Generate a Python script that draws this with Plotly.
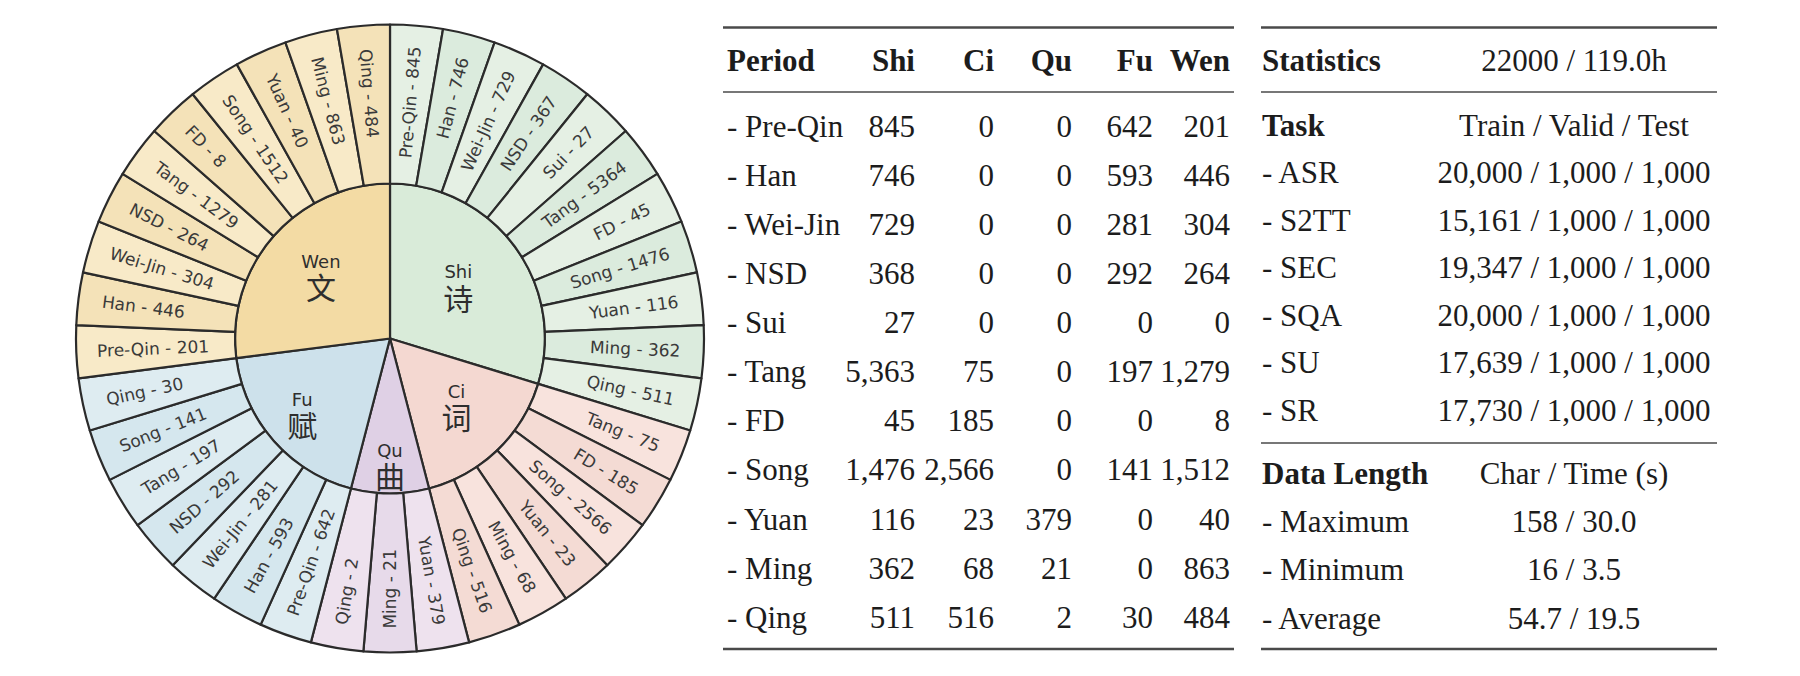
import plotly.graph_objects as go

# ---------------- data: wheel (as drawn on the wheel) ----------------
genres = ["Shi", "Ci", "Qu", "Fu", "Wen"]
genres_zh = ["诗", "词", "曲", "赋", "文"]
shi_periods = ["Pre-Qin", "Han", "Wei-Jin", "NSD", "Sui", "Tang", "FD", "Song", "Yuan", "Ming", "Qing"]
shi_counts = [845, 746, 729, 367, 27, 5364, 45, 1476, 116, 362, 511]
ci_periods = ["Tang", "FD", "Song", "Yuan", "Ming", "Qing"]
ci_counts = [75, 185, 2566, 23, 68, 516]
qu_periods = ["Yuan", "Ming", "Qing"]
qu_counts = [379, 21, 2]
fu_periods = ["Pre-Qin", "Han", "Wei-Jin", "NSD", "Tang", "Song", "Qing"]
fu_counts = [642, 593, 281, 292, 197, 141, 30]
wen_periods = ["Pre-Qin", "Han", "Wei-Jin", "NSD", "Tang", "FD", "Song", "Yuan", "Ming", "Qing"]
wen_counts = [201, 446, 304, 264, 1279, 8, 1512, 40, 863, 484]

# ---------------- data: table 1 ----------------
table1_header = ["Period", "Shi", "Ci", "Qu", "Fu", "Wen"]
periods = ["Pre-Qin", "Han", "Wei-Jin", "NSD", "Sui", "Tang", "FD", "Song", "Yuan", "Ming", "Qing"]
t_shi = [845, 746, 729, 368, 27, 5363, 45, 1476, 116, 362, 511]
t_ci = [0, 0, 0, 0, 0, 75, 185, 2566, 23, 68, 516]
t_qu = [0, 0, 0, 0, 0, 0, 0, 0, 379, 21, 2]
t_fu = [642, 593, 281, 292, 0, 197, 0, 141, 0, 0, 30]
t_wen = [201, 446, 304, 264, 0, 1279, 8, 1512, 40, 863, 484]

# ---------------- data: table 2 ----------------
stats_label = "Statistics"
stats_value = "22000 / 119.0h"
task_header = ["Task", "Train / Valid / Test"]
tasks = ["ASR", "S2TT", "SEC", "SQA", "SU", "SR"]
task_train = [20000, 15161, 19347, 20000, 17639, 17730]
task_valid = [1000, 1000, 1000, 1000, 1000, 1000]
task_test = [1000, 1000, 1000, 1000, 1000, 1000]
length_header = ["Data Length", "Char / Time (s)"]
length_rows = ["Maximum", "Minimum", "Average"]
length_char = ["158", "16", "54.7"]
length_time = ["30.0", "3.5", "19.5"]

# ---------------- styles / layout ----------------
PAGE_W, PAGE_H, BODY_MARGIN = 1800, 676, 8          # browser body margin offsets the figure
W, H = PAGE_W - 2 * BODY_MARGIN, PAGE_H - 2 * BODY_MARGIN
CX, CY, R_OUT, R_IN = 390, 338.5, 314, 155         # page-pixel geometry of the wheel
inner_label_r = [85, 96, 128, 117, 92]             # radial position of each genre label
inner_colors = ["#d9ebd9", "#f4d8d1", "#dfd0e5", "#cde1eb", "#f3dba4"]
outer_colors = [("#e5f0e4", "#dbebdd"), ("#f8e3dd", "#f4dbd4"), ("#eee2ee", "#e7daea"),
                ("#deecf1", "#d5e7ee"), ("#f8eac8", "#f4e2b8")]
EDGE = "#2b2b2b"
WHEEL_FONT = "DejaVu Sans, Noto Sans CJK SC"
SERIF = "Liberation Serif"
TXT = "#1c1c1c"
FS = 31

groups = [(shi_periods, shi_counts), (ci_periods, ci_counts), (qu_periods, qu_counts),
          (fu_periods, fu_counts), (wen_periods, wen_counts)]
n_seg = sum(len(p) for p, _ in groups)
deg_per_seg = 360.0 / n_seg


def dom_x(c, r):
    return [(c - r - BODY_MARGIN) / W, (c + r - BODY_MARGIN) / W]


def dom_y(c, r):
    return [1 - (c + r - BODY_MARGIN) / H, 1 - (c - r - BODY_MARGIN) / H]


fig = go.Figure()

# ---- inner disc: genres on a polar subplot (angle sized by number of periods) ----
g_width, g_mid, start = [], [], 0.0
for ps, _ in groups:
    w = len(ps) * deg_per_seg
    g_width.append(w)
    g_mid.append(start + w / 2)
    start += w
fig.add_trace(go.Barpolar(
    r=[R_IN] * len(genres), theta=g_mid, width=g_width, base=0,
    marker=dict(color=inner_colors, line=dict(color=EDGE, width=2.2)),
    hoverinfo="skip", showlegend=False, subplot="polar",
))
inner_text = [f"<span style='font-size:18px'>{g}</span><br><span style='font-size:30px'>{z}</span>"
              for g, z in zip(genres, genres_zh)]
fig.add_trace(go.Scatterpolar(
    r=inner_label_r, theta=g_mid, text=inner_text, mode="text", textposition="middle center",
    textfont=dict(family=WHEEL_FONT, size=24, color="#2e2e2e"),
    hoverinfo="skip", showlegend=False, subplot="polar",
))

# ---- outer ring: one equal slice per (genre, period) ----
o_labels, o_text, o_colors, o_values = [], [], [], []
for gi, (g, (ps, cs)) in enumerate(zip(genres, groups)):
    for k, (p, c) in enumerate(zip(ps, cs)):
        o_labels.append(f"{g}|{p}")
        o_text.append(f"{p} - {c}")
        o_colors.append(outer_colors[gi][k % 2])
        o_values.append(1)
fig.add_trace(go.Pie(
    labels=o_labels, values=o_values, text=o_text, textinfo="text",
    sort=False, direction="clockwise", rotation=0, hole=R_IN / R_OUT,
    marker=dict(colors=o_colors, line=dict(color=EDGE, width=2.2)),
    insidetextorientation="radial", textposition="inside",
    insidetextfont=dict(family=WHEEL_FONT, size=17, color="#3a3a3a"),
    domain=dict(x=dom_x(CX, R_OUT), y=dom_y(CY, R_OUT)),
    hoverinfo="skip", showlegend=False,
))


def add_col(xs, ys, texts, pos):
    fig.add_trace(go.Scatter(
        x=xs, y=ys, text=texts, mode="text", textposition=pos,
        textfont=dict(family=SERIF, size=FS, color=TXT),
        hoverinfo="skip", showlegend=False, cliponaxis=False,
    ))


# ---------- table 1 (page-pixel coordinates) ----------
T1_LEFT, T1_RIGHT_EDGES = 727, [915, 994, 1072, 1153, 1230]
T1_HEAD_Y, T1_ROW0, T1_DY = 63, 129, 49.1
row_y = [T1_ROW0 + i * T1_DY for i in range(len(periods))]
add_col([T1_LEFT], [T1_HEAD_Y], [f"<b>{table1_header[0]}</b>"], "middle right")
for xe, h in zip(T1_RIGHT_EDGES, table1_header[1:]):
    add_col([xe], [T1_HEAD_Y], [f"<b>{h}</b>"], "middle left")
add_col([T1_LEFT] * len(periods), row_y, [f"- {p}" for p in periods], "middle right")
for xe, col in zip(T1_RIGHT_EDGES, [t_shi, t_ci, t_qu, t_fu, t_wen]):
    add_col([xe] * len(col), row_y, [f"{v:,}" for v in col], "middle left")

# ---------- table 2 ----------
T2_LEFT, T2_CENTER = 1262, 1574
T2_STATS_Y = 63
T2_TASK_Y0, T2_TASK_DY = 128, 47.5
T2_LEN_Y0, T2_LEN_DY = 476, 48.3
add_col([T2_LEFT], [T2_STATS_Y], [f"<b>{stats_label}</b>"], "middle right")
add_col([T2_CENTER], [T2_STATS_Y], [stats_value], "middle center")
task_y = [T2_TASK_Y0 + i * T2_TASK_DY for i in range(len(tasks) + 1)]
add_col([T2_LEFT] * (len(tasks) + 1), task_y,
        [f"<b>{task_header[0]}</b>"] + [f"- {t}" for t in tasks], "middle right")
add_col([T2_CENTER] * (len(tasks) + 1), task_y,
        [task_header[1]] + [f"{a:,} / {b:,} / {c:,}" for a, b, c in zip(task_train, task_valid, task_test)],
        "middle center")
len_y = [T2_LEN_Y0 + i * T2_LEN_DY for i in range(len(length_rows) + 1)]
add_col([T2_LEFT] * (len(length_rows) + 1), len_y,
        [f"<b>{length_header[0]}</b>"] + [f"- {r}" for r in length_rows], "middle right")
add_col([T2_CENTER] * (len(length_rows) + 1), len_y,
        [length_header[1]] + [f"{c} / {t}" for c, t in zip(length_char, length_time)], "middle center")

# ---------- rules ----------
RULE = "#4a4a4a"
rules = [((723, 1234), 27.5, 2.6), ((723, 1234), 92, 1.6), ((723, 1234), 649, 2.6),
         ((1261, 1717), 27.5, 2.6), ((1261, 1717), 92, 1.6), ((1261, 1717), 443, 1.6),
         ((1261, 1717), 649, 2.6)]
for (x0, x1), y, w in rules:
    fig.add_shape(type="line", xref="x", yref="y", x0=x0, x1=x1, y0=y, y1=y,
                  line=dict(color=RULE, width=w))

fig.update_layout(
    width=W, height=H, margin=dict(l=0, r=0, t=0, b=0),
    paper_bgcolor="white", plot_bgcolor="rgba(0,0,0,0)",
    xaxis=dict(range=[BODY_MARGIN, BODY_MARGIN + W], visible=False, fixedrange=True, domain=[0, 1]),
    yaxis=dict(range=[BODY_MARGIN + H, BODY_MARGIN], visible=False, fixedrange=True, domain=[0, 1]),
    polar=dict(
        domain=dict(x=dom_x(CX, R_OUT), y=dom_y(CY, R_OUT)),
        bgcolor="rgba(0,0,0,0)", hole=0,
        radialaxis=dict(range=[0, R_OUT], visible=False, showgrid=False),
        angularaxis=dict(direction="clockwise", rotation=90, visible=False, showgrid=False),
    ),
)

fig.write_html("out.html")
